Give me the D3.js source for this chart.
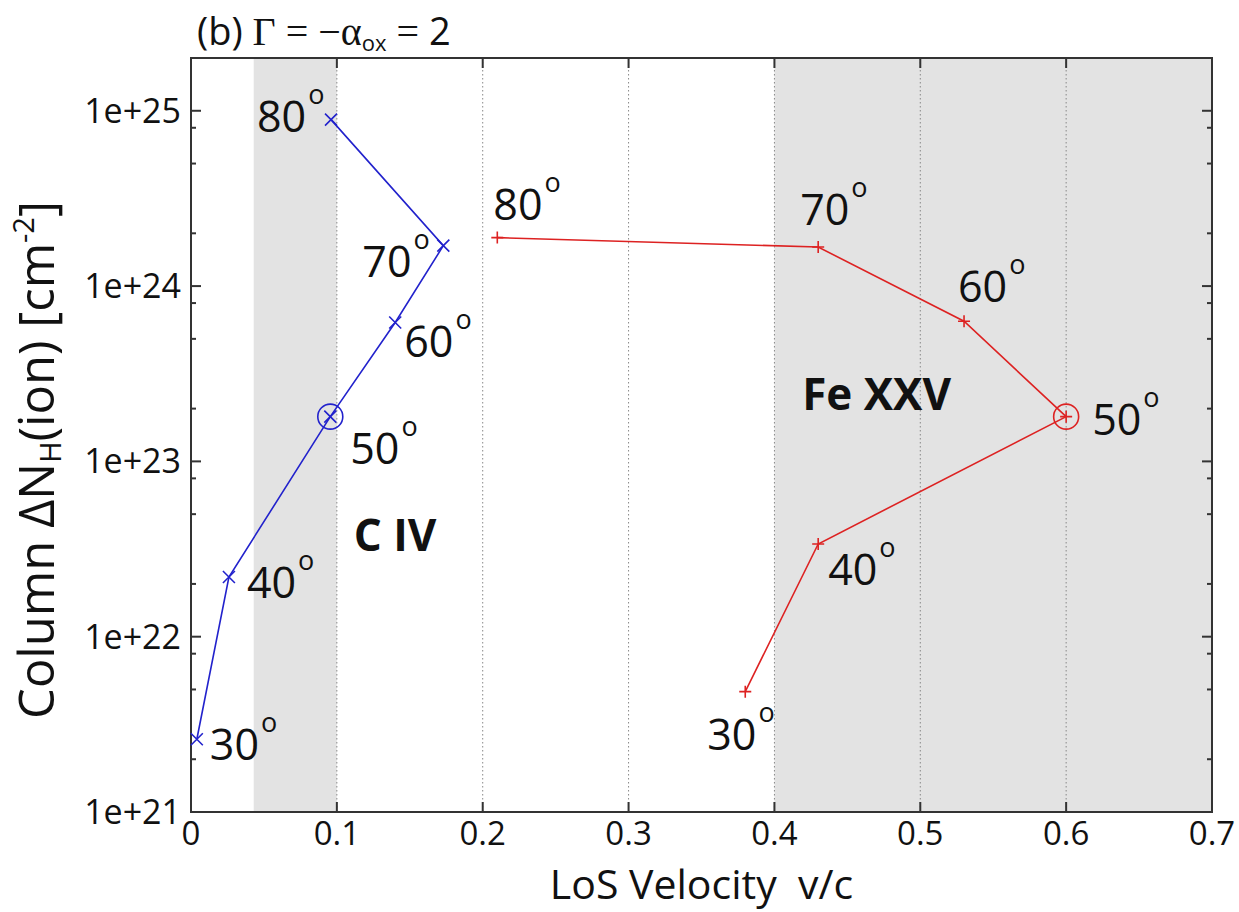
<!DOCTYPE html>
<html>
<head>
<meta charset="utf-8">
<script src="https://cdn.jsdelivr.net/npm/d3@7"></script>
<style>
  body { margin: 0; background: #fff; }
  text { font-family: "Open Sans", "DejaVu Sans", sans-serif; fill: #111; }
  .grid line { stroke: #888; stroke-width: 1; stroke-dasharray: 1.5,2.5; }
  .frame { fill: none; stroke: #333; stroke-width: 2; }
  .tick { stroke: #333; stroke-width: 2; }
</style>
</head>
<body>
<svg id="chart" width="1239" height="912"></svg>
<script>
// angles for both series
var angles = [30, 40, 50, 60, 70, 80];

// C IV (blue)
var civVel = [0.004, 0.026, 0.0955, 0.140, 0.173, 0.096];
var civCol = [2.6e21, 2.19e22, 1.8e23, 6.2e23, 1.7e24, 8.9e24];

// Fe XXV (red)
var feVel = [0.38, 0.43, 0.60, 0.53, 0.43, 0.21];
var feCol = [4.86e21, 3.38e22, 1.8e23, 6.3e23, 1.67e24, 1.89e24];

// highlighted angle (circled)
var markAngle = 50;

// shaded velocity bands
var bands = [[0.043, 0.1], [0.4, 0.7]];

var xTicks = [0, 0.1, 0.2, 0.3, 0.4, 0.5, 0.6, 0.7];
var gridTicks = [0.1, 0.2, 0.3, 0.4, 0.5, 0.6];
var yTicks = [1e21, 1e22, 1e23, 1e24, 1e25];
var yTickLabels = ["1e+21", "1e+22", "1e+23", "1e+24", "1e+25"];

// label offsets (px) from each point, in angle order
var civLabelOff = [[13, 21], [18, 21], [20, 47], [9, 35], [-81, 31], [-74, 12]];
var feLabelOff = [[-38, 58], [10, 41], [26, 18], [-6, -19], [-18, -22], [-4, -18]];

var svg = d3.select("#chart");
var pL = 191, pR = 1212, pT = 58, pB = 812;

var x = d3.scaleLinear().domain([0, 0.7]).range([pL, pR]);
var y = d3.scaleLog().domain([1e21, 2e25]).range([pB, pT]);

// bands
svg.append("g").selectAll("rect")
    .data(bands)
  .enter().append("rect")
    .attr("x", function(d) { return x(d[0]); })
    .attr("width", function(d) { return x(d[1]) - x(d[0]); })
    .attr("y", pT)
    .attr("height", pB - pT)
    .attr("fill", "#e3e3e3");

// dotted grid
svg.append("g").attr("class", "grid").selectAll("line")
    .data(gridTicks)
  .enter().append("line")
    .attr("x1", function(d) { return x(d); })
    .attr("x2", function(d) { return x(d); })
    .attr("y1", pT).attr("y2", pB);

// ticks, inward on all four sides
var minor = [];
for (var e = 21; e <= 25; e++) {
  [2, 5, 8].forEach(function(m) {
    var v = m * Math.pow(10, e);
    if (v <= 2e25) minor.push(v);
  });
}
var tg = svg.append("g");
xTicks.forEach(function(t) {
  tg.append("line").attr("class", "tick").attr("x1", x(t)).attr("x2", x(t)).attr("y1", pB).attr("y2", pB - 10);
  tg.append("line").attr("class", "tick").attr("x1", x(t)).attr("x2", x(t)).attr("y1", pT).attr("y2", pT + 10);
});
yTicks.forEach(function(t) {
  tg.append("line").attr("class", "tick").attr("x1", pL).attr("x2", pL + 10).attr("y1", y(t)).attr("y2", y(t));
  tg.append("line").attr("class", "tick").attr("x1", pR).attr("x2", pR - 10).attr("y1", y(t)).attr("y2", y(t));
});
minor.forEach(function(t) {
  tg.append("line").attr("class", "tick").attr("x1", pL).attr("x2", pL + 5).attr("y1", y(t)).attr("y2", y(t));
  tg.append("line").attr("class", "tick").attr("x1", pR).attr("x2", pR - 5).attr("y1", y(t)).attr("y2", y(t));
});

svg.append("rect").attr("class", "frame")
    .attr("x", pL).attr("y", pT)
    .attr("width", pR - pL).attr("height", pB - pT);

// tick labels
svg.append("g").selectAll("text")
    .data(xTicks)
  .enter().append("text")
    .attr("x", function(d) { return x(d); })
    .attr("y", 845)
    .attr("text-anchor", "middle")
    .attr("font-size", 33)
    .text(function(d) { return d === 0 ? "0" : d3.format(".1f")(d); });

svg.append("g").selectAll("text")
    .data(yTicks)
  .enter().append("text")
    .attr("x", 181)
    .attr("y", function(d) { return y(d) + 12; })
    .attr("text-anchor", "end")
    .attr("font-size", 34)
    .text(function(d, i) { return yTickLabels[i]; });

// series
function drawSeries(vel, col, color, marker, offs) {
  var pts = vel.map(function(v, i) { return { v: v, c: col[i], a: angles[i] }; });
  var line = d3.line()
      .x(function(d) { return x(d.v); })
      .y(function(d) { return y(d.c); });
  svg.append("path")
      .datum(pts)
      .attr("d", line)
      .attr("fill", "none")
      .attr("stroke", color)
      .attr("stroke-width", 1.6);

  var g = svg.append("g");
  pts.forEach(function(d, i) {
    var px = x(d.v), py = y(d.c), s = 6;
    if (marker === "x") {
      g.append("path").attr("d", "M" + (px - s) + "," + (py - s) + "L" + (px + s) + "," + (py + s) +
        "M" + (px - s) + "," + (py + s) + "L" + (px + s) + "," + (py - s))
        .attr("stroke", color).attr("stroke-width", 1.6);
    } else {
      g.append("path").attr("d", "M" + (px - s) + "," + py + "L" + (px + s) + "," + py +
        "M" + px + "," + (py - s) + "L" + px + "," + (py + s))
        .attr("stroke", color).attr("stroke-width", 1.6);
    }
    if (d.a === markAngle) {
      g.append("circle").attr("cx", px).attr("cy", py).attr("r", 12.5)
        .attr("fill", "none").attr("stroke", color).attr("stroke-width", 1.6);
    }
    var t = svg.append("text")
        .attr("x", px + offs[i][0])
        .attr("y", py + offs[i][1])
        .attr("font-size", 43);
    t.append("tspan").text(d.a);
    t.append("tspan").attr("font-size", 27).attr("dx", 2).attr("dy", -28).text("o");
  });
}

drawSeries(civVel, civCol, "#2222cc", "x", civLabelOff);
drawSeries(feVel, feCol, "#dd2222", "+", feLabelOff);

// ion names
svg.append("text").attr("x", x(0.1116)).attr("y", y(3.08e22))
    .attr("font-size", 44).attr("font-weight", "bold").text("C IV");
svg.append("text").attr("x", x(0.419)).attr("y", y(1.96e23))
    .attr("font-size", 44).attr("font-weight", "bold").text("Fe XXV");

// title
var title = svg.append("text").attr("x", 197).attr("y", 45).attr("font-size", 38);
title.append("tspan").text("(b) ");
title.append("tspan").attr("font-family", "Liberation Serif, serif").attr("font-size", 40).text("\u0393 = \u2212\u03b1");
title.append("tspan").attr("font-size", 22).attr("dy", 6).text("ox");
title.append("tspan").attr("dy", -6).attr("font-family", "Liberation Serif, serif").attr("font-size", 40).text(" = ");
title.append("tspan").text("2");

// axis labels
svg.append("text")
    .attr("x", (pL + pR) / 2)
    .attr("y", 899)
    .attr("text-anchor", "middle")
    .attr("font-size", 41)
    .attr("xml:space", "preserve")
    .text("LoS Velocity  v/c");

var yl = svg.append("text")
    .attr("transform", "translate(54," + ((pT + pB) / 2 + 25) + ") rotate(-90)")
    .attr("text-anchor", "middle")
    .attr("font-size", 49);
yl.append("tspan").text("Column \u0394N");
yl.append("tspan").attr("font-size", 29).attr("dy", 7).text("H");
yl.append("tspan").attr("dy", -7).text("(ion) [cm");
yl.append("tspan").attr("font-size", 29).attr("dy", -20).text("-2");
yl.append("tspan").attr("dy", 20).text("]");
</script>
</body>
</html>
